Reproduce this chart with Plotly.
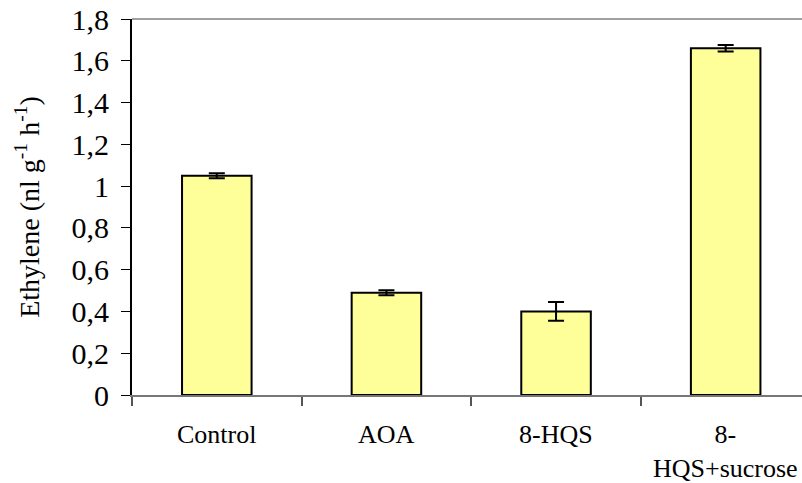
import plotly.graph_objects as go

categories = ["Control", "AOA", "8-HQS", "8-<br>HQS+sucrose"]
ethylene = [1.05, 0.49, 0.40, 1.66]
errors = [0.012, 0.012, 0.045, 0.015]
y_ticks = [0, 0.2, 0.4, 0.6, 0.8, 1.0, 1.2, 1.4, 1.6, 1.8]
y_tick_text = ["0", "0,2", "0,4", "0,6", "0,8", "1", "1,2", "1,4", "1,6", "1,8"]

serif = "Times New Roman"

fig = go.Figure()
fig.add_trace(go.Bar(
    x=list(range(len(categories))),
    y=ethylene,
    width=0.41,
    marker=dict(color="#FFFF99", line=dict(color="#000000", width=2)),
    error_y=dict(type="data", array=errors, visible=True,
                 color="#000000", thickness=2, width=8),
    showlegend=False,
))

# category labels centred under each bar
for i, lab in enumerate(categories):
    fig.add_annotation(
        x=i, y=0, xref="x", yref="paper", yshift=-23,
        text=lab, showarrow=False, yanchor="top", xanchor="center",
        font=dict(family=serif, size=26),
    )

# thin frame line along the top of the plot area
fig.add_shape(type="line", xref="paper", yref="paper",
              x0=0, x1=1, y0=1, y1=1,
              line=dict(color="#A0A0A0", width=2))

fig.update_layout(
    width=802, height=483,
    template="none",
    margin=dict(l=132, r=0, t=19, b=88),
    paper_bgcolor="white", plot_bgcolor="white",
    font=dict(family=serif, color="black"),
    xaxis=dict(
        range=[-0.5, 3.45],
        tickvals=[-0.5, 0.5, 1.5, 2.5],
        ticktext=["", "", "", ""],
        ticks="outside", ticklen=9, tickwidth=2, tickcolor="#555555",
        showline=True, linecolor="#777777", linewidth=2,
        showgrid=False, zeroline=False,
    ),
    yaxis=dict(
        range=[0, 1.8],
        tickvals=y_ticks, ticktext=y_tick_text,
        ticks="outside", ticklen=9, tickwidth=1, tickcolor="black",
        ticklabelstandoff=6,
        showline=True, linecolor="black", linewidth=2,
        showgrid=False, zeroline=False,
        tickfont=dict(family=serif, size=30),
        title=dict(text="Ethylene (nl g<sup>-1</sup> h<sup>-1</sup>)",
                   font=dict(family=serif, size=28),
                   standoff=24),
    ),
)

fig.write_html("out.html")
